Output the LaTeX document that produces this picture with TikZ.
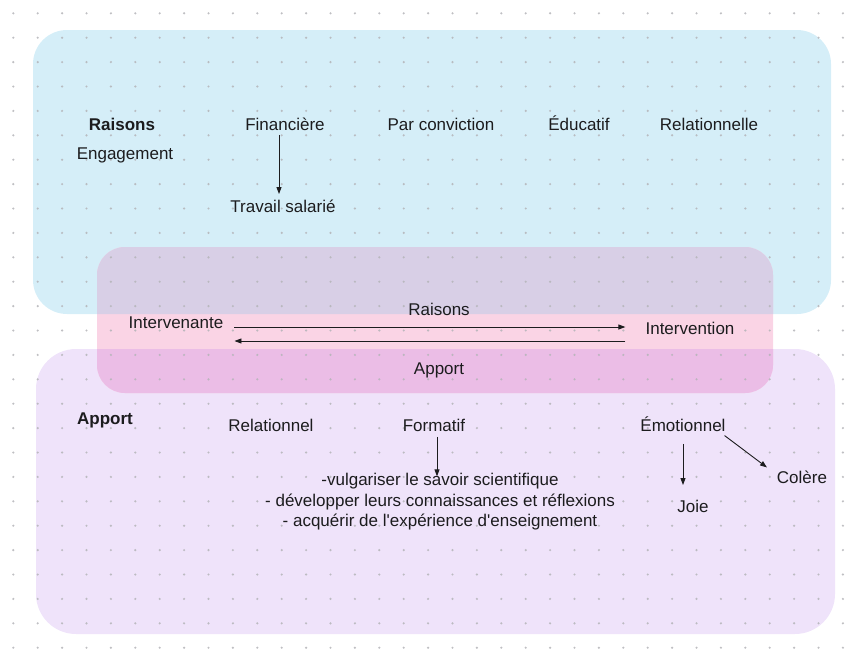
\documentclass[tikz,border=0pt]{standalone}
\usepackage{fontspec}
\setmainfont{Liberation Sans}[Ligatures=TeXOff]
\usetikzlibrary{arrows.meta}
\definecolor{cblue}{HTML}{D5EEF8}
\definecolor{cpurple}{HTML}{EFE3FA}
\definecolor{cpink}{HTML}{FAD4E5}
\definecolor{cpinkblue}{HTML}{D8CFE6}
\definecolor{cpinkpurple}{HTML}{EBBDE6}
\definecolor{dotc}{HTML}{B4B4B8}
\definecolor{txt}{HTML}{1C1C1E}
\begin{document}
\begin{tikzpicture}[x=1pt,y=-1pt,
  lbl/.style={font=\fontsize{17}{20}\selectfont, text=txt, inner sep=1pt, text height=12pt, text depth=3.5pt, yshift=-2pt},
  blbl/.style={lbl, font=\fontsize{17}{20}\selectfont\bfseries},
  multi/.style={font=\fontsize{17}{20.5}\selectfont, text=txt, inner sep=1pt, align=center},
  arr/.style={-{Triangle[length=7pt,width=5pt]}, line width=0.9pt, txt},
  bluebox/.style={rounded corners=34pt},
  purplebox/.style={rounded corners=40pt},
  pinkbox/.style={rounded corners=28pt}]
\useasboundingbox (0,0) rectangle (845,653);
% zones
\fill[cblue, bluebox] (33,30) rectangle (831,314);
\fill[cpurple, purplebox] (36,349) rectangle (835,634);
\fill[cpink, pinkbox] (97,247) rectangle (773,393);
\begin{scope}
  \clip[bluebox] (33,30) rectangle (831,314);
  \fill[cpinkblue, pinkbox] (97,247) rectangle (773,393);
\end{scope}
\begin{scope}
  \clip[purplebox] (36,349) rectangle (835,634);
  \fill[cpinkpurple, pinkbox] (97,247) rectangle (773,393);
\end{scope}
% dot grid
\foreach \i in {0,...,34}
  \foreach \j in {0,...,26}
    \fill[dotc, opacity=0.85] (13.3+24.4*\i, 13.3+24.4*\j) circle (1.2pt);
% top zone
\node[blbl] (rais) at (122,124) {Raisons};
\node[lbl] (eng) at (125,153) {Engagement};
\node[lbl] (fin) at (285,124) {Financière};
\node[lbl] (conv) at (441,124) {Par conviction};
\node[lbl] (edu) at (579,124) {Éducatif};
\node[lbl] (relle) at (709,124) {Relationnelle};
\node[lbl] (trav) at (283,206) {Travail salarié};
\draw[arr] ([xshift=-6pt]fin.south) -- ([xshift=-6pt,yshift=5pt]fin.south |- trav.north);
% middle band
\node[lbl] (inte) at (176,322) {Intervenante};
\node[lbl] (intn) at (690,328) {Intervention};
\node[lbl] (mrais) at (439,309) {Raisons};
\node[lbl] (mapp) at (439,368) {Apport};
\draw[arr, shorten >=19pt] ([xshift=10pt,yshift=-3pt]inte.east) -- ([yshift=-3pt]inte.east -| intn.west);
\draw[arr, shorten <=19pt] ([yshift=-17pt]inte.east -| intn.west) -- ([xshift=10pt,yshift=-17pt]inte.east);
% bottom zone
\node[blbl] (app) at (105,418) {Apport};
\node[lbl] (rel) at (271,425) {Relationnel};
\node[lbl] (form) at (434,425) {Formatif};
\node[lbl] (emo) at (683,425) {Émotionnel};
\node[multi] (vulg) at (440,502) {-vulgariser le savoir scientifique\\- développer leurs connaissances et réflexions\\- acquérir de l'expérience d'enseignement};
\node[lbl] (joie) at (693,506) {Joie};
\node[lbl] (col) at (802,477) {Colère};
\draw[arr, shorten <=1pt, shorten >=-4pt] ([xshift=3pt]form.south) -- ([xshift=3pt]form.south |- vulg.north);
\draw[arr, shorten <=8pt, shorten >=14pt] (emo.south) -- (emo.south |- joie.north);
\draw[arr, shorten <=1pt, shorten >=6pt] ([xshift=-3pt,yshift=1pt]emo.south east) -- ([xshift=-4pt,yshift=-1pt]col.north west);
\end{tikzpicture}
\end{document}
